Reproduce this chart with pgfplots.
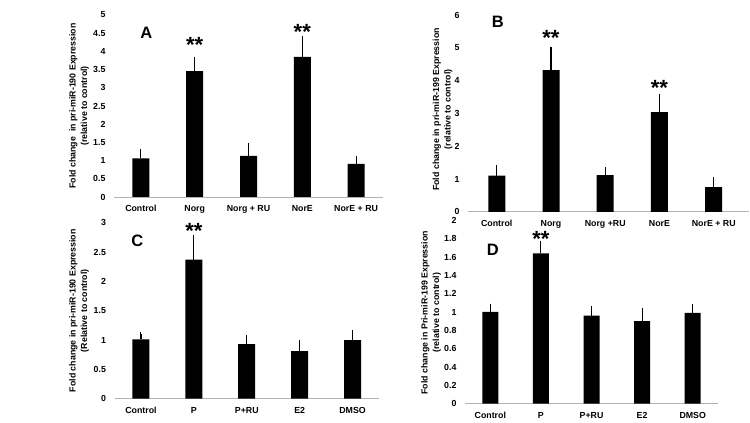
\documentclass[border=0pt]{standalone}
\usepackage{fontspec}
\setmainfont{Liberation Sans}
\usepackage{pgfplots}
\pgfplotsset{compat=1.18}
\pgfplotsset{
 panel/.style={
  scale only axis, anchor=south west,
  axis x line*=bottom, axis y line*=left,
  y axis line style={draw=none},
  x axis line style={draw=black!30, line width=0.6pt},
  major tick length=0pt,
  xtick={0,1,2,3,4},
  ymin=0,
  tick label style={font=\fontsize{8.8}{10}\selectfont\bfseries},
  xticklabel style={yshift=-5pt},
  yticklabel style={xshift=-5pt},
  /pgf/number format/assume math mode=true,
  ylabel style={font=\fontsize{8.8}{11.5}\selectfont\bfseries, align=center, anchor=center, rotate=0},
  clip=false,
 },
 bars/.style={ybar, draw=none, fill=black, bar width=#1,
   error bars/.cd, y dir=plus, y explicit,
   error bar style={line width=1.1pt, black},
   error mark=-, error mark options={mark size=2pt, line width=1.1pt, black}},
}
\tikzset{
 stars/.style={font=\fontsize{22}{22}\selectfont\bfseries, anchor=base, yshift=-12pt, inner sep=0pt},
 plab/.style={font=\fontsize{16.5}{16.5}\selectfont\bfseries, anchor=center, inner sep=0pt},
}
\begin{document}
\begin{tikzpicture}[x=1pt,y=1pt]
\path (0,0) rectangle (750,422);
% Panel A
\begin{axis}[panel, at={(114pt,225pt)}, width=269pt, height=182pt,
  xmin=-0.5, xmax=4.5, ymax=5,
  ytick={0,0.5,1,1.5,2,2.5,3,3.5,4,4.5,5},
  yticklabels={0,0.5,1,1.5,2,2.5,3,3.5,4,4.5,5},
  xticklabels={Control,Norg,Norg + RU,NorE,NorE + RU},
  ylabel={Fold change\ \ in pri-miR-190 Expression\\(relative to control)},
  ylabel style={at={(axis description cs:-0.13,0.5)}}]
\addplot[bars=17pt] coordinates {(0,1.06) +- (0,0.21) (1,3.46) +- (0,0.34) (2,1.13) +- (0,0.29) (3,3.85) +- (0,0.51) (4,0.91) +- (0,0.17)};
\node[stars] at (axis cs:1,4.3) {**};
\node[stars] at (axis cs:3,4.67) {**};
\node[plab] at (axis cs:0.1,4.5) {A};
\end{axis}
% Panel B
\begin{axis}[panel, at={(468pt,210.2pt)}, width=281pt, height=196.8pt,
  xmin=-0.53, xmax=4.65, ymax=6,
  ytick={0,1,2,3,4,5,6},
  xticklabels={Control,Norg,Norg +RU,NorE,NorE + RU},
  ylabel={Fold change in pri-miR-199 Expression\\(relative to control)},
  ylabel style={at={(axis description cs:-0.09,0.52)}}]
\addplot[bars=17pt] coordinates {(0,1.10) +- (0,0.26) (1,4.32) +- (0,0.65) (2,1.12) +- (0,0.19) (3,3.04) +- (0,0.49) (4,0.75) +- (0,0.24)};
\node[stars] at (axis cs:1,5.44) {**};
\node[stars] at (axis cs:3,3.92) {**};
\node[plab] at (axis cs:0.02,5.8) {B};
\end{axis}
% Panel C
\begin{axis}[panel, at={(114.5pt,23.3pt)}, width=264.5pt, height=176pt,
  xmin=-0.5, xmax=4.5, ymax=3,
  ytick={0,0.5,1,1.5,2,2.5,3},
  yticklabels={0,0.5,1,1.5,2,2.5,3},
  xticklabels={Control,P,P+RU,E2,DMSO},
  ylabel={Fold change in pri-miR-190 Expression\\(Relative to control)},
  ylabel style={at={(axis description cs:-0.134,0.5)}}]
\addplot[bars=17pt] coordinates {(0,1.01) +- (0,0.10) (1,2.37) +- (0,0.39) (2,0.93) +- (0,0.13) (3,0.81) +- (0,0.16) (4,1.00) +- (0,0.14)};
\node[stars] at (axis cs:1,2.94) {**};
\node[plab] at (axis cs:-0.07,2.69) {C};
\end{axis}
% Panel D
\begin{axis}[panel, at={(465pt,18.3pt)}, width=253pt, height=183.4pt,
  xmin=-0.5, xmax=4.5, ymax=2,
  ytick={0,0.2,0.4,0.6,0.8,1,1.2,1.4,1.6,1.8,2},
  yticklabels={0,0.2,0.4,0.6,0.8,1,1.2,1.4,1.6,1.8,2},
  xticklabels={Control,P,P+RU,E2,DMSO},
  ylabel={Fold change in Pri-miR-199 Expression\\(relative to control)},
  ylabel style={at={(axis description cs:-0.134,0.496)}}]
\addplot[bars=16pt] coordinates {(0,1.00) +- (0,0.07) (1,1.64) +- (0,0.11) (2,0.96) +- (0,0.08) (3,0.90) +- (0,0.12) (4,0.99) +- (0,0.07)};
\node[stars] at (axis cs:1,1.84) {**};
\node[plab] at (axis cs:0.05,1.68) {D};
\end{axis}
\end{tikzpicture}
\end{document}
